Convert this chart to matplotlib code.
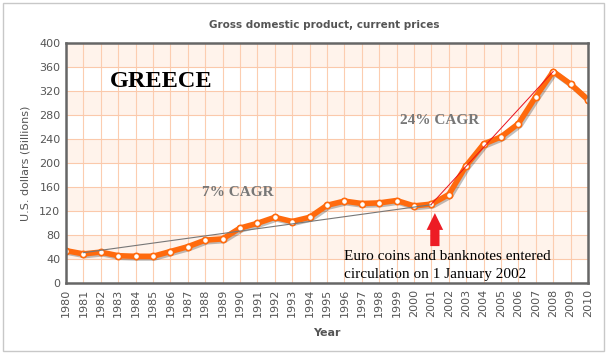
import matplotlib.pyplot as plt
import matplotlib.patheffects as pe
from matplotlib.patches import Rectangle

# values (billions USD)
years = list(range(1980, 2011))
gdp = [54.4, 49, 52, 46, 45, 45, 53, 61, 72, 74, 92, 100, 110, 103, 110,
       130, 137, 133, 134, 138, 129, 132, 148, 196, 232, 244, 266, 311, 353, 332, 306]

# hand drawn trend lines
trend_old_years = [1981, 2001]
trend_old = [51, 131]
trend_new_years = [2001, 2008]
trend_new = [132, 353]

y_ticks = list(range(0, 401, 40))
peach_bands = [(40, 80), (120, 160), (200, 240), (280, 320), (360, 400)]

fig = plt.figure(figsize=(6.08, 3.56), dpi=100)
ax = fig.add_axes([66 / 608, 1 - 283.3 / 356, 522 / 608, 240 / 356])

for lo, hi in peach_bands:
    ax.axhspan(lo, hi, color='#fff3eb', zorder=0, lw=0)

for yr in years:
    ax.axvline(yr, color='#fccdb0', lw=0.8, zorder=1)
for t in y_ticks:
    ax.axhline(t, color='#fbc9ab', lw=0.8, zorder=1)

ax.plot(years, gdp, color='#ff6a0d', lw=4, zorder=3,
        path_effects=[pe.SimpleLineShadow(offset=(1.2, -1.2), alpha=0.25), pe.Normal()])
ax.plot(years, gdp, 'o', ms=4.5, mfc='white', mec='#ff6a0d', mew=1.2, zorder=4)

ax.plot(trend_old_years, trend_old, color='#777777', lw=0.8, zorder=5)
ax.plot(trend_new_years, trend_new, color='#e8101e', lw=0.7, zorder=5)

# red arrow under 2001/2002
ax.arrow(2001.2, 62, 0, 55, width=0.53, head_width=0.95, head_length=28,
         length_includes_head=True, color='#ed1c24', lw=0, zorder=6)

ax.text(1982.5, 336, 'GREECE', family='Liberation Serif', fontsize=17.5,
        fontweight='bold', color='black', va='center', ha='left', zorder=7)
ax.text(1987.8, 151, '7% CAGR', family='Liberation Serif', fontsize=11,
        fontweight='bold', color='#777777', va='center', ha='left', zorder=7)
ax.text(1999.2, 271, '24% CAGR', family='Liberation Serif', fontsize=11,
        fontweight='bold', color='#777777', va='center', ha='left', zorder=7)
ax.text(1996.0, 39, 'Euro coins and banknotes entered', family='Liberation Serif',
        fontsize=11, color='black', va='baseline', ha='left', zorder=7)
ax.text(1996.0, 9, 'circulation on 1 January 2002', family='Liberation Serif',
        fontsize=11, color='black', va='baseline', ha='left', zorder=7)

ax.set_xlim(1980, 2010)
ax.set_ylim(0, 400)
ax.set_xticks(years)
ax.set_xticklabels([str(y) for y in years], rotation=90)
ax.set_yticks(y_ticks)
ax.tick_params(axis='both', length=0, labelsize=8, labelcolor='#555555', pad=4)
for s in ax.spines.values():
    s.set_color('#666666')
    s.set_linewidth(1.8)
    s.set_zorder(8)

ax.set_xlabel('Year', fontsize=8, fontweight='bold', color='#555555', labelpad=8)
ax.set_ylabel('U.S. dollars (Billions)', fontsize=8, color='#555555', labelpad=6)
fig.text(324 / 608, 1 - 25 / 356, 'Gross domestic product, current prices',
         fontsize=7.5, fontweight='bold', color='#555555', ha='center', va='center')

fig.patches.append(Rectangle((3 / 608, 1 - 351 / 356), 601 / 608, 348 / 356,
                             transform=fig.transFigure, fill=False,
                             edgecolor='#c8c8c8', lw=1))

fig.savefig('out.png', dpi=100)
